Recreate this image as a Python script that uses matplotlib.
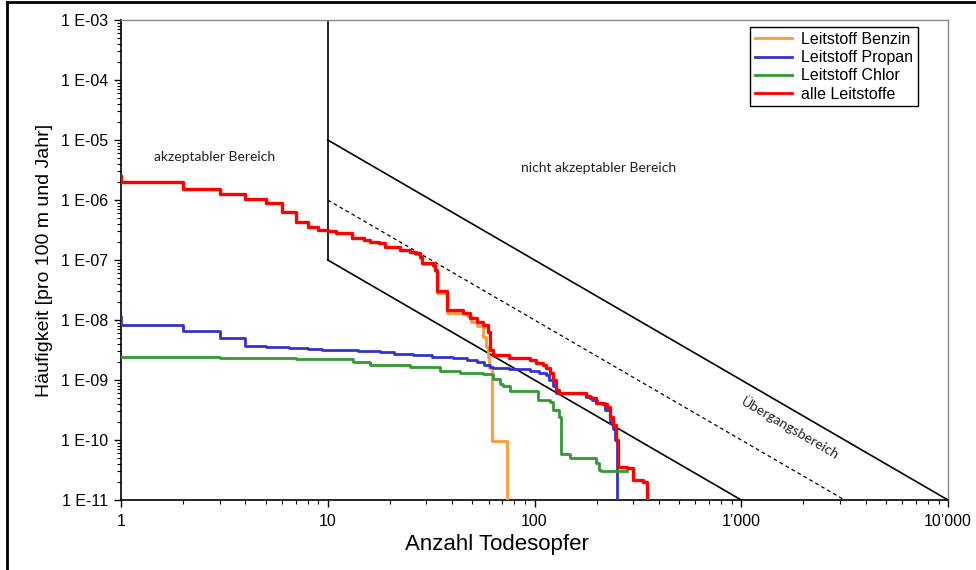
import math
import matplotlib
matplotlib.use("Agg")
import matplotlib.pyplot as plt
from matplotlib.lines import Line2D
from matplotlib.ticker import FixedLocator, FuncFormatter, LogLocator, NullFormatter

# --- F-N curves: number of fatalities vs. cumulative frequency (steps) ---
benzin_x = [1, 2, 3, 4, 5, 6, 7, 8, 9, 10, 11, 13.1, 14.9, 16, 17.6, 18.9, 22.4, 25,
            26.4, 27.9, 28.5, 32.4, 33.0, 33.7, 37.6, 47, 49.5, 52.5, 56.5, 58.5,
            59.7, 60.5, 62, 73.5]
benzin_y = [2.0e-6, 1.52e-6, 1.27e-6, 1.05e-6, 0.88e-6, 0.62e-6, 0.43e-6, 0.35e-6,
            0.32e-6, 0.30e-6, 2.78e-7, 2.30e-7, 2.16e-7, 2.03e-7, 1.90e-7, 1.64e-7,
            1.44e-7, 1.35e-7, 1.26e-7, 1.10e-7, 8.5e-8, 8.0e-8, 6.5e-8, 2.85e-8,
            1.3e-8, 1.16e-8, 9.4e-9, 7.8e-9, 5.2e-9, 3.5e-9, 2.4e-9, 1.6e-9, 9.5e-11,
            5e-12]

propan_x = [1, 1, 2, 3, 4, 5, 6.5, 8, 9.4, 11, 14, 17.9, 21, 25.9, 32, 40.5, 47,
            52.5, 57, 61, 63, 75, 95, 105, 114, 118, 123, 127, 178, 190, 200, 220,
            231, 240, 246, 250]
propan_y = [1.13e-8, 8.25e-9, 6.6e-9, 4.95e-9, 3.73e-9, 3.6e-9, 3.45e-9, 3.3e-9,
            3.2e-9, 3.15e-9, 3.05e-9, 2.9e-9, 2.75e-9, 2.6e-9, 2.45e-9, 2.3e-9,
            2.15e-9, 2.0e-9, 1.8e-9, 1.64e-9, 1.58e-9, 1.5e-9, 1.4e-9, 1.3e-9,
            1.2e-9, 1.0e-9, 8e-10, 6e-10, 5.3e-10, 4.6e-10, 4.1e-10, 3.2e-10,
            1.9e-10, 1.5e-10, 1.0e-10, 5e-12]

chlor_x = [1, 2, 3, 4, 5, 7, 9, 12, 13.3, 16, 25, 34.9, 43.7, 56.3, 63, 68, 70.6,
           75.8, 104, 118.6, 123, 132, 135, 148, 199, 204, 210, 279]
chlor_y = [2.42e-9, 2.40e-9, 2.37e-9, 2.33e-9, 2.30e-9, 2.27e-9, 2.24e-9, 2.2e-9,
           1.97e-9, 1.78e-9, 1.64e-9, 1.4e-9, 1.3e-9, 1.25e-9, 1.04e-9, 8.6e-10,
           7.9e-10, 6.5e-10, 4.6e-10, 4.3e-10, 3.2e-10, 2.4e-10, 5.9e-11, 5.0e-11,
           4.1e-11, 3.2e-11, 3.0e-11, 3.0e-11]

alle_x = [1, 1, 2, 3, 4, 5, 6, 7, 8, 9, 10, 11, 13.1, 14.9, 16, 17.6, 18.9, 22.4, 25,
          26.4, 27.9, 28.5, 32.4, 33.0, 33.7, 37.8, 45.3, 48.8, 52.5, 56.5, 59.6,
          60.9, 63.2, 75, 95, 102, 110, 114, 118.6, 123, 127, 132, 178, 185, 199,
          214, 223, 231, 239, 248, 253, 279, 300, 335, 349]
alle_y = [2.5e-6, 2.0e-6, 1.52e-6, 1.27e-6, 1.05e-6, 0.88e-6, 0.62e-6, 0.43e-6,
          0.35e-6, 0.32e-6, 0.30e-6, 2.78e-7, 2.30e-7, 2.16e-7, 2.03e-7, 1.90e-7,
          1.67e-7, 1.47e-7, 1.38e-7, 1.29e-7, 1.13e-7, 8.8e-8, 8.3e-8, 6.8e-8,
          3.0e-8, 1.47e-8, 1.3e-8, 1.1e-8, 9.4e-9, 8.3e-9, 6.3e-9, 3.2e-9, 2.6e-9,
          2.35e-9, 2.15e-9, 1.95e-9, 1.8e-9, 1.6e-9, 1.3e-9, 1.0e-9, 6.8e-10,
          6.0e-10, 5.5e-10, 5.0e-10, 4.1e-10, 4.0e-10, 3.6e-10, 2.4e-10, 1.8e-10,
          1.0e-10, 3.6e-11, 3.4e-11, 2.15e-11, 2.0e-11, 5e-12]

series_labels = ["Leitstoff Benzin", "Leitstoff Propan", "Leitstoff Chlor", "alle Leitstoffe"]
series_colors = ["#FF9933", "#3333CC", "#339933", "#FF0000"]

# --- acceptance criteria (slope -2 in log-log) ---
crit_upper_x = [10, 10000]
crit_upper_y = [1e-5, 1e-11]
crit_mid_x = [10, 3162.3]
crit_mid_y = [1e-6, 1e-11]
crit_lower_x = [10, 1000]
crit_lower_y = [1e-7, 1e-11]
crit_vert_x = [10, 10]
crit_vert_y = [1e-7, 1e-3]

x_ticks = [1, 10, 100, 1000, 10000]
x_tick_labels = ["1", "10", "100", "1\u2019000", "10\u2019000"]
y_ticks = [1e-11, 1e-10, 1e-9, 1e-8, 1e-7, 1e-6, 1e-5, 1e-4, 1e-3]

fig = plt.figure(figsize=(9.76, 5.70), dpi=100)
ax = fig.add_axes([121 / 976, 1 - 500 / 570, 827 / 976, 480 / 570])
ax.set_xscale("log")
ax.set_yscale("log")
ax.set_xlim(1, 10000)
ax.set_ylim(1e-11, 1e-3)

# criteria lines
ax.plot(crit_vert_x, crit_vert_y, color="black", lw=1.2, zorder=2)
ax.plot(crit_upper_x, crit_upper_y, color="black", lw=1.2, zorder=2)
ax.plot(crit_lower_x, crit_lower_y, color="black", lw=1.2, zorder=2)
ax.plot(crit_mid_x, crit_mid_y, color="black", lw=0.9, ls=(0, (3, 2.5)), zorder=2)

# step curves
ax.plot(benzin_x, benzin_y, drawstyle="steps-post", color=series_colors[0], lw=2.0, zorder=3)
ax.plot(propan_x, propan_y, drawstyle="steps-post", color=series_colors[1], lw=2.0, zorder=4)
ax.plot(chlor_x, chlor_y, drawstyle="steps-post", color=series_colors[2], lw=2.0, zorder=4)
ax.plot(alle_x, alle_y, drawstyle="steps-post", color=series_colors[3], lw=2.4, zorder=5)

# region annotations
note_font = "Lato"
ax.text(2.82, 5.2e-6, "akzeptabler Bereich", fontsize=10, family=note_font,
        ha="center", va="center", color="#222222")
ax.text(203, 3.4e-6, "nicht akzeptabler Bereich", fontsize=10, family=note_font,
        ha="center", va="center", color="#222222")
ax.text(1722, 1.58e-10, "\u00dcbergangsbereich", fontsize=10, family=note_font,
        ha="center", va="center", rotation=-30.1, rotation_mode="anchor", color="#222222")

# axes styling
for side in ("top", "right"):
    ax.spines[side].set_color("#888888")
    ax.spines[side].set_linewidth(1.0)
for side in ("left", "bottom"):
    ax.spines[side].set_color("black")
    ax.spines[side].set_linewidth(1.2)

label_font = "Liberation Sans"
ax.xaxis.set_major_locator(FixedLocator(x_ticks))
ax.xaxis.set_major_formatter(FuncFormatter(
    lambda v, p: x_tick_labels[x_ticks.index(v)] if v in x_ticks else ""))
ax.xaxis.set_minor_locator(LogLocator(base=10, subs=range(2, 10), numticks=20))
ax.xaxis.set_minor_formatter(NullFormatter())
ax.yaxis.set_major_locator(FixedLocator(y_ticks))
ax.yaxis.set_major_formatter(FuncFormatter(lambda v, p: "1 E-%02d" % round(-math.log10(v))))
ax.yaxis.set_minor_locator(LogLocator(base=10, subs=range(2, 10), numticks=20))
ax.yaxis.set_minor_formatter(NullFormatter())

ax.tick_params(axis="both", which="major", direction="out", length=5, width=1.0,
               color="black", labelsize=11.5, pad=4)
ax.tick_params(axis="both", which="minor", direction="out", length=3, width=0.8, color="black")
ax.tick_params(axis="x", which="major", pad=5)
for lbl in ax.get_xticklabels() + ax.get_yticklabels():
    lbl.set_family(label_font)

ax.set_xlabel("Anzahl Todesopfer", fontsize=16, family=label_font)
ax.xaxis.set_label_coords(0.455, -0.07)
ax.xaxis.label.set_verticalalignment("top")
ax.set_ylabel("H\u00e4ufigkeit [pro 100 m und Jahr]", fontsize=14, family=label_font, labelpad=6)

handles = [Line2D([], [], color=c, lw=2.0) for c in series_colors]
leg = ax.legend(handles, series_labels, loc="upper right", bbox_to_anchor=(0.964, 0.985),
                borderaxespad=0, fancybox=False, framealpha=1, edgecolor="black",
                prop={"family": label_font, "size": 11.5}, handlelength=2.3,
                handletextpad=0.6, labelspacing=0.2, borderpad=0.3)
leg.get_frame().set_linewidth(1.0)

# outer chart frame (left and top edges)
fig.add_artist(Line2D([7 / 976, 7 / 976], [0, 1 - 2 / 570], transform=fig.transFigure,
                      color="black", lw=2))
fig.add_artist(Line2D([7 / 976, 1], [1 - 2 / 570, 1 - 2 / 570], transform=fig.transFigure,
                      color="black", lw=2))

fig.savefig("out.png", dpi=100)
